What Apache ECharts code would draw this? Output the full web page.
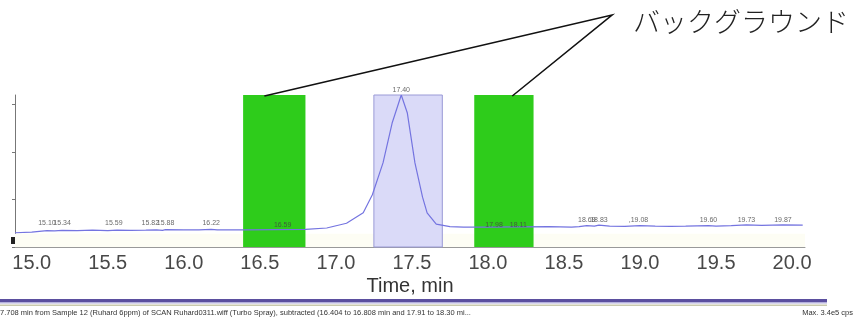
<!DOCTYPE html>
<html>
<head>
<meta charset="utf-8">
<script src="https://cdn.jsdelivr.net/npm/echarts@6/dist/echarts.min.js"></script>
<style>
html,body{margin:0;padding:0;background:#fff;}
#c{width:857px;height:320px;}
</style>
</head>
<body>
<div id="c"></div>
<script>
// ---- data ----
const xTickLabels = [15.0, 15.5, 16.0, 16.5, 17.0, 17.5, 18.0, 18.5, 19.0, 19.5, 20.0];
const traceTimes = [14.89,15.00,15.05,15.10,15.15,15.20,15.30,15.40,15.50,15.56,15.65,15.75,15.82,15.86,15.88,16.00,16.10,16.18,16.22,16.40,16.60,16.80,16.94,17.07,17.18,17.24,17.31,17.37,17.43,17.47,17.52,17.57,17.60,17.66,17.75,17.84,18.00,18.20,18.40,18.55,18.60,18.65,18.70,18.73,18.80,18.90,19.00,19.10,19.20,19.30,19.45,19.50,19.60,19.70,19.80,19.94,20.07];
const traceCps   = [30000,31500,33000,34500,34000,35000,34500,35500,34500,35500,35000,35500,36000,35000,36500,36000,36000,37000,36000,36000,36500,37000,40000,50000,72000,110000,177000,261000,320000,282000,177000,105000,72000,48000,43000,42000,42000,42500,43000,42000,43000,45000,44000,46000,44000,43500,45000,44000,43500,44000,45000,44000,45000,46500,45500,46500,46000];
const peakLabelTimes = [15.10,15.20,15.54,15.78,15.88,16.18,16.65,18.04,18.20,18.65,18.73,18.99,19.45,19.70,19.94];
const peakLabelCps   = [50000,50000,50000,50000,50000,50000,46000,47000,47000,56000,56000,56000,56000,56000,56000];
const peakLabelTexts = ["15.10","15.34","15.59","15.82","15.88","16.22","16.59","17.98","18.11","18.69","18.83",",19.08","19.60","19.73","19.87"];
const mainPeak = {time: 17.43, cps: 320000, text: "17.40"};
const peakWindow = [17.25, 17.70];
const backgroundWindows = [[16.39, 16.80], [17.91, 18.30]];
const calloutTargets = [16.53, 18.16];
const calloutText = "バックグラウンド";
const footerText = "7.708 min from Sample 12 (Ruhard 6ppm) of SCAN Ruhard0311.wiff (Turbo Spray), subtracted (16.404 to 16.808 min and 17.91 to 18.30 mi...";
const footerRight = "Max. 3.4e5 cps";
const yMax = 320000;

const minorTicks = [];
for (let i = 0; i <= 51; i++) minorTicks.push(+(14.9 + i * 0.1).toFixed(1));

const chart = echarts.init(document.getElementById('c'));
const trace = traceTimes.map((t, i) => [t, traceCps[i]]);
const labelPts = peakLabelTimes.map((t, i) => ({value: [t, peakLabelCps[i]], label: {formatter: peakLabelTexts[i]}}));

chart.setOption({
  animation: false,
  backgroundColor: '#ffffff',
  grid: {left: 15, right: 52, top: 95, bottom: 73},
  xAxis: {
    type: 'value', min: 14.89, max: 20.085,
    name: 'Time, min', nameLocation: 'middle', nameGap: 29,
    nameTextStyle: {fontFamily: 'Liberation Sans', fontSize: 20, color: '#333'},
    splitLine: {show: false},
    axisLine: {lineStyle: {color: '#999', width: 1}},
    axisTick: {show: true, inside: true, length: 3, customValues: minorTicks, lineStyle: {color: '#888'}},
    axisLabel: {customValues: xTickLabels, formatter: v => v.toFixed(1), fontFamily: 'Liberation Sans', fontSize: 20, color: '#484848', margin: 6}
  },
  yAxis: {
    type: 'value', min: 0, max: yMax,
    splitLine: {show: false},
    axisLine: {show: true, lineStyle: {color: '#777'}},
    axisTick: {show: true, length: 3, customValues: [0, 100000, 200000, 300000], lineStyle: {color: '#777'}},
    axisLabel: {show: false}
  },
  series: [
    {
      type: 'line', z: 1, data: [], silent: true,
      markArea: {silent: true, data: [
        [{xAxis: 14.89, yAxis: 0, itemStyle: {color: '#fdfdf4'}}, {xAxis: 20.085, yAxis: 28000}],
        [{xAxis: peakWindow[0], yAxis: 0, itemStyle: {color: '#dadaf8', borderColor: '#9a9ad6', borderWidth: 1}}, {xAxis: peakWindow[1], yAxis: yMax}]
      ]}
    },
    {
      type: 'line', z: 3, data: trace, showSymbol: false, symbol: 'none',
      lineStyle: {color: '#7474e0', width: 1.2}
    },
    {
      type: 'scatter', z: 4, symbolSize: 0, data: labelPts,
      label: {show: true, position: 'inside', fontFamily: 'Liberation Sans', fontSize: 7, color: '#444'}
    },
    {
      type: 'scatter', z: 4, symbolSize: 0, data: [{value: [mainPeak.time, mainPeak.cps], label: {formatter: mainPeak.text}}],
      label: {show: true, position: 'top', distance: 1, fontFamily: 'Liberation Sans', fontSize: 7, color: '#444'}
    },
    {
      type: 'line', z: 6, data: [], silent: true,
      markArea: {silent: true, itemStyle: {color: 'rgba(30,200,10,0.93)'}, data: backgroundWindows.map(w => [{xAxis: w[0], yAxis: 0}, {xAxis: w[1], yAxis: yMax}])}
    }
  ]
});

const vertex = [612, 15];
const p1 = chart.convertToPixel({gridIndex: 0}, [calloutTargets[0], yMax]);
const p2 = chart.convertToPixel({gridIndex: 0}, [calloutTargets[1], yMax]);
chart.setOption({
  graphic: [
    {type: 'polyline', z: 100, shape: {points: [[p1[0], p1[1] + 1], vertex, [p2[0], p2[1] + 1]]}, style: {stroke: '#111', lineWidth: 1.6, fill: null}},
    {type: 'text', z: 100, left: 633, top: 8, style: {text: calloutText, font: '300 27px "Noto Sans CJK JP"', fill: '#222'}},
    {type: 'rect', z: 100, shape: {x: 11, y: 237, width: 4, height: 7}, style: {fill: '#222'}},
    {type: 'rect', z: 100, shape: {x: 0, y: 299, width: 827, height: 3}, style: {fill: '#5b4f9f'}},
    {type: 'rect', z: 100, shape: {x: 0, y: 302, width: 827, height: 1.5}, style: {fill: '#b4b0dc'}},
    {type: 'rect', z: 100, shape: {x: 0, y: 304.5, width: 827, height: 1.5}, style: {fill: '#c9c9ae'}},
    {type: 'text', z: 100, left: 0, top: 309, style: {text: footerText, font: '7.5px "Liberation Sans"', fill: '#333'}},
    {type: 'text', z: 100, right: 4, top: 309, style: {text: footerRight, font: '7.5px "Liberation Sans"', fill: '#333'}}
  ]
});
</script>
</body>
</html>
